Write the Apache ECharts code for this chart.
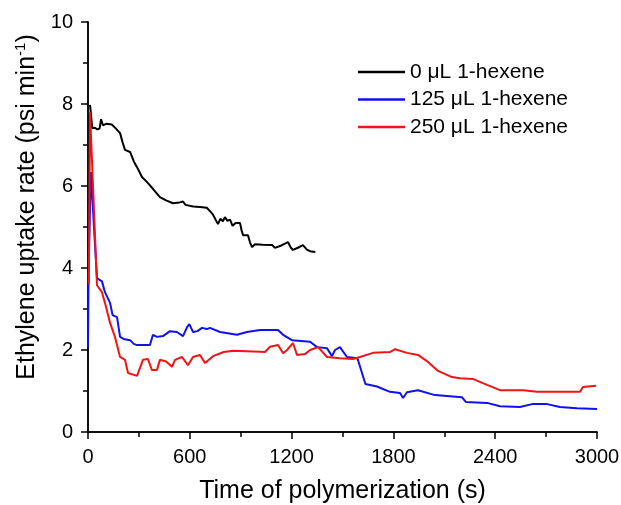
<!DOCTYPE html>
<html>
<head>
<meta charset="utf-8">
<script src="https://cdn.jsdelivr.net/npm/echarts@6/dist/echarts.min.js"></script>
<style>html,body{margin:0;padding:0;background:#fff}#c{width:621px;height:505px}</style>
</head>
<body>
<div id="c"></div>
<script>
var seriesNames = ['0 μL 1-hexene', '125 μL 1-hexene', '250 μL 1-hexene'];
var xTicks = [0, 600, 1200, 1800, 2400, 3000];
var yTicks = [0, 2, 4, 6, 8, 10];

var hex0 = [[12,7.98],[25,7.41],[40,7.42],[55,7.38],[68,7.4],[77,7.63],[88,7.48],[110,7.52],[140,7.5],[165,7.4],[189,7.29],[205,7.05],[218,6.88],[248,6.83],[270,6.6],[289,6.46],[318,6.22],[347,6.1],[385,5.92],[424,5.73],[460,5.65],[501,5.58],[540,5.6],[560,5.62],[575,5.54],[584,5.51],[620,5.5],[660,5.49],[700,5.47],[720,5.38],[737,5.3],[752,5.18],[766,5.07],[780,5.2],[795,5.14],[807,5.24],[822,5.15],[837,5.18],[852,5.03],[870,5.1],[896,5.1],[905,4.92],[914,4.8],[943,4.8],[955,4.62],[967,4.51],[984,4.58],[1030,4.57],[1085,4.56],[1102,4.49],[1140,4.55],[1179,4.63],[1195,4.5],[1208,4.44],[1240,4.5],[1267,4.56],[1290,4.45],[1309,4.41],[1340,4.39]];

var hex125 = [[0,2.07],[4,4.2],[18,6.34],[35,5.0],[53,3.76],[70,3.7],[82,3.68],[100,3.41],[130,3.15],[145,2.85],[171,2.8],[189,2.32],[210,2.27],[248,2.24],[270,2.15],[289,2.12],[365,2.12],[383,2.37],[406,2.32],[442,2.34],[483,2.46],[524,2.44],[560,2.34],[584,2.56],[597,2.63],[619,2.44],[645,2.46],[672,2.54],[701,2.51],[719,2.54],[778,2.44],[878,2.37],[937,2.44],[1014,2.49],[1120,2.49],[1150,2.37],[1202,2.24],[1309,2.2],[1350,2.07],[1409,2.04],[1438,1.85],[1456,2.0],[1485,2.07],[1526,1.83],[1588,1.8],[1615,1.44],[1635,1.17],[1703,1.11],[1780,0.98],[1839,0.95],[1857,0.83],[1880,0.97],[1945,1.02],[2045,0.9],[2204,0.85],[2228,0.73],[2352,0.71],[2428,0.63],[2546,0.61],[2617,0.68],[2706,0.68],[2782,0.61],[2882,0.58],[3000,0.56]];

var hex250 = [[5,3.6],[12,7.8],[53,3.58],[82,3.41],[100,3.15],[130,2.66],[159,2.32],[189,1.83],[218,1.76],[236,1.44],[289,1.37],[324,1.76],[353,1.78],[377,1.51],[406,1.51],[424,1.76],[460,1.72],[495,1.59],[513,1.76],[554,1.83],[589,1.63],[619,1.83],[660,1.88],[690,1.68],[737,1.85],[800,1.95],[855,1.98],[1014,1.96],[1043,1.95],[1073,2.08],[1120,2.12],[1150,1.92],[1173,2.0],[1208,2.17],[1232,1.88],[1279,1.9],[1309,2.0],[1356,2.07],[1409,1.83],[1485,1.8],[1562,1.78],[1603,1.83],[1680,1.93],[1780,1.95],[1810,2.02],[1880,1.93],[1945,1.88],[2004,1.71],[2063,1.49],[2145,1.34],[2192,1.31],[2271,1.29],[2352,1.15],[2428,1.02],[2565,1.02],[2647,0.98],[2900,0.98],[2917,1.1],[2995,1.13]];

var colors = ['#000000', '#1010f0', '#f01515'];
var FONT = 'Liberation Sans, Arial, sans-serif';

var chart = echarts.init(document.getElementById('c'), null, {renderer: 'canvas'});

function baseAxis(extra) {
  return Object.assign({
    type: 'value',
    axisLine: {show: true, lineStyle: {color: '#000', width: 1.5}},
    splitLine: {show: false},
    minorSplitLine: {show: false}
  }, extra);
}

var option = {
  backgroundColor: '#fff',
  animation: false,
  grid: {left: 88, right: 24, top: 22, bottom: 73, containLabel: false, outerBoundsMode: 'none'},
  legend: {
    orient: 'vertical',
    left: 353,
    top: 56,
    itemWidth: 47,
    itemHeight: 2.5,
    itemGap: 5.5,
    icon: 'rect',
    data: seriesNames,
    textStyle: {fontFamily: FONT, fontSize: 21, color: '#000', lineHeight: 22}
  },
  xAxis: [
    baseAxis({
      position: 'bottom', min: xTicks[0], max: xTicks[xTicks.length - 1], interval: 600,
      axisTick: {show: true, inside: false, length: 7, lineStyle: {color: '#000', width: 1.5}},
      minorTick: {show: true, splitNumber: 2, length: 4, lineStyle: {color: '#000', width: 1.5}},
      axisLabel: {fontFamily: FONT, fontSize: 20, color: '#000', margin: 15, formatter: function (v) { return String(v); }},
      name: 'Time of polymerization (s)', nameLocation: 'middle', nameGap: 47,
      nameTextStyle: {fontFamily: FONT, fontSize: 25, color: '#000'}
    }),
    baseAxis({
      position: 'top', min: xTicks[0], max: xTicks[xTicks.length - 1], interval: 600,
      axisTick: {show: true, inside: true, length: 7, lineStyle: {color: '#000', width: 1.5}},
      minorTick: {show: true, splitNumber: 2, length: 5, lineStyle: {color: '#000', width: 1.5}},
      axisLabel: {show: false}
    })
  ],
  yAxis: [
    baseAxis({
      position: 'left', min: yTicks[0], max: yTicks[yTicks.length - 1], interval: 2,
      axisTick: {show: true, inside: false, length: 7, lineStyle: {color: '#000', width: 1.5}},
      minorTick: {show: true, splitNumber: 2, length: 4, lineStyle: {color: '#000', width: 1.5}},
      axisLabel: {fontFamily: FONT, fontSize: 20, color: '#000', margin: 15, formatter: function (v) { return String(v); }},
      name: 'Ethylene uptake rate (psi min{sup|-1})', nameLocation: 'middle', nameGap: 45,
      nameTextStyle: {
        fontFamily: FONT, fontSize: 25, color: '#000', padding: [0, 0, 0, 40],
        rich: {sup: {fontFamily: FONT, fontSize: 15, color: '#000', padding: [0, 0, 12, 0]}}
      }
    }),
    baseAxis({
      position: 'right', min: yTicks[0], max: yTicks[yTicks.length - 1], interval: 2,
      axisTick: {show: true, inside: true, length: 7, lineStyle: {color: '#000', width: 1.5}},
      minorTick: {show: true, splitNumber: 2, length: 5, lineStyle: {color: '#000', width: 1.5}},
      axisLabel: {show: false}
    })
  ],
  series: [
    {name: seriesNames[0], type: 'line', data: hex0, symbol: 'none', lineStyle: {width: 2, color: colors[0]}, itemStyle: {color: colors[0]}, z: 3},
    {name: seriesNames[1], type: 'line', data: hex125, symbol: 'none', lineStyle: {width: 2, color: colors[1]}, itemStyle: {color: colors[1]}, z: 2},
    {name: seriesNames[2], type: 'line', data: hex250, symbol: 'none', lineStyle: {width: 2, color: colors[2]}, itemStyle: {color: colors[2]}, z: 4}
  ]
};
chart.setOption(option);
</script>
</body>
</html>
